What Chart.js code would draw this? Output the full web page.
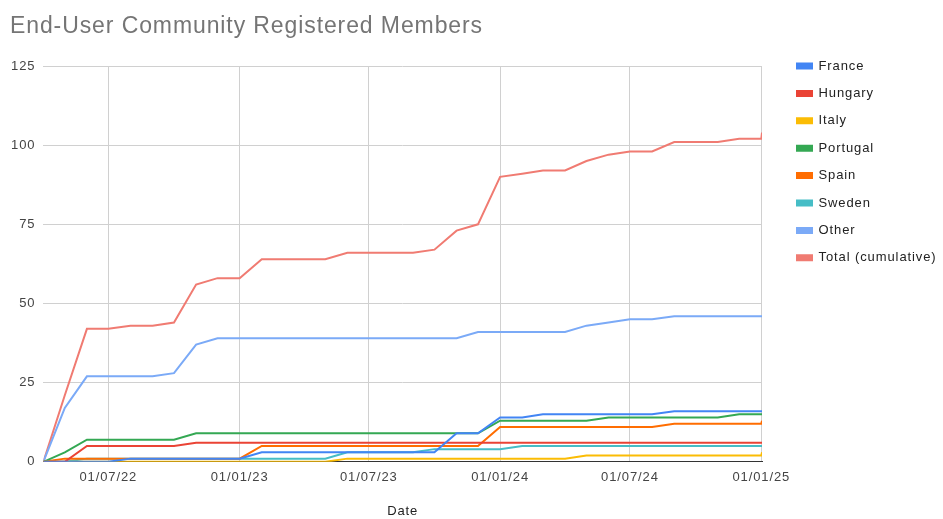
<!DOCTYPE html>
<html>
<head>
<meta charset="utf-8">
<script src="https://cdn.jsdelivr.net/npm/chart.js@4"></script>
<style>
  body { margin: 0; background: #fff; }
  #wrap { width: 943px; height: 519px; }
</style>
</head>
<body>
<div id="wrap"><canvas id="grafico"></canvas></div>
<script>
// datas (1º de cada mês) + um ponto extra no fim
const datas = ["2022-04-01","2022-05-01","2022-06-01","2022-07-01","2022-08-01","2022-09-01","2022-10-01","2022-11-01","2022-12-01",
  "2023-01-01","2023-02-01","2023-03-01","2023-04-01","2023-05-01","2023-06-01","2023-07-01","2023-08-01","2023-09-01","2023-10-01","2023-11-01","2023-12-01",
  "2024-01-01","2024-02-01","2024-03-01","2024-04-01","2024-05-01","2024-06-01","2024-07-01","2024-08-01","2024-09-01","2024-10-01","2024-11-01","2024-12-01",
  "2025-01-01","2025-01-02"];

const france   = [0,0,0,0,1,1,1,1,1, 1,3,3,3,3,3,3,3,3,3,9,9, 14,14,15,15,15,15,15,15,16,16,16,16, 16,16];
const hungary  = [0,0,5,5,5,5,5,6,6, 6,6,6,6,6,6,6,6,6,6,6,6, 6,6,6,6,6,6,6,6,6,6,6,6, 6,6];
const italy    = [0,0,0,0,0,0,0,0,0, 0,0,0,0,0,1,1,1,1,1,1,1, 1,1,1,1,2,2,2,2,2,2,2,2, 2,3];
const portugal = [0,3,7,7,7,7,7,9,9, 9,9,9,9,9,9,9,9,9,9,9,9, 13,13,13,13,13,14,14,14,14,14,14,15, 15,15];
const spain    = [0,1,1,1,1,1,1,1,1, 1,5,5,5,5,5,5,5,5,5,5,5, 11,11,11,11,11,11,11,11,12,12,12,12, 12,13];
const sweden   = [0,0,1,1,1,1,1,1,1, 1,1,1,1,1,3,3,3,3,4,4,4, 4,5,5,5,5,5,5,5,5,5,5,5, 5,5];
const other    = [0,17,27,27,27,27,28,37,39, 39,39,39,39,39,39,39,39,39,39,39,41, 41,41,41,41,43,44,45,45,46,46,46,46, 46,46];
const total    = [0,21,42,42,43,43,44,56,58, 58,64,64,64,64,66,66,66,66,67,73,75, 90,91,92,92,95,97,98,98,101,101,101,102, 102,104];

const datasTicks = ["2022-07-01","2023-01-01","2023-07-01","2024-01-01","2024-07-01","2025-01-01"];
const yTicks = [0,25,50,75,100,125];

const dia = s => Date.UTC(+s.slice(0,4), +s.slice(5,7)-1, +s.slice(8,10)) / 86400000;
const rotuloData = s => s.slice(8,10) + "/" + s.slice(5,7) + "/" + s.slice(2,4);

const series = [
  ["France", france, "#4285f4"],
  ["Hungary", hungary, "#ea4335"],
  ["Italy", italy, "#fbbc04"],
  ["Portugal", portugal, "#34a853"],
  ["Spain", spain, "#ff6d01"],
  ["Sweden", sweden, "#46bdc6"],
  ["Other", other, "#7baaf7"],
  ["Total (cumulative)", total, "#f07b72"]
];

const tickDias = datasTicks.map(dia);
const fonte = "Liberation Sans, Arial, sans-serif";
const espacoLetras = "0.9px";
const padLegenda = 14.4;

// legenda: largura fixa e posição ao lado da área do gráfico; título a 10px da borda
const ajustes = {
  id: "ajustes",
  beforeInit(chart) {
    const fit = chart.legend.fit;
    chart.legend.fit = function () { fit.call(this); this.width = 181; };
  },
  beforeLayout(chart) { chart.ctx.letterSpacing = espacoLetras; },
  afterLayout(chart) {
    chart.legend.left = chart.chartArea.right + 35 - padLegenda;
    chart.legend.top = chart.chartArea.top - padLegenda - 6.5;
    if (chart.titleBlock) chart.titleBlock.left = 10;
  },
  beforeDraw(chart) { chart.ctx.letterSpacing = espacoLetras; }
};

new Chart(document.getElementById("grafico"), {
  type: "line",
  data: {
    datasets: series.map(([nome, vals, cor]) => ({
      label: nome,
      data: vals.map((v, i) => ({ x: dia(datas[i]), y: v })),
      borderColor: cor,
      backgroundColor: cor,
      borderWidth: 2,
      pointRadius: 0,
      tension: 0
    }))
  },
  plugins: [ajustes],
  options: {
    responsive: true,
    maintainAspectRatio: false,
    animation: false,
    layout: { padding: { left: 3, right: 0, top: 0, bottom: 0 } },
    plugins: {
      title: {
        display: true,
        text: "End-User Community Registered Members",
        align: "start",
        color: "#757575",
        font: { family: fonte, size: 23, weight: "normal" },
        padding: { top: 13, bottom: 25.4 }
      },
      legend: {
        position: "right",
        align: "start",
        labels: {
          boxWidth: 15,
          boxHeight: 5,
          padding: padLegenda,
          color: "#222",
          font: { family: fonte, size: 13 }
        }
      },
      tooltip: { enabled: false }
    },
    scales: {
      x: {
        type: "linear",
        min: dia(datas[0]),
        max: dia(datas[datas.length - 1]),
        afterBuildTicks: ax => { ax.ticks = tickDias.map(v => ({ value: v })); },
        ticks: {
          callback: v => rotuloData(datasTicks[tickDias.indexOf(v)] || ""),
          color: "#444",
          font: { family: fonte, size: 13 },
          maxRotation: 0,
          padding: 8
        },
        grid: { color: "#d0d0d0", drawTicks: false },
        border: { color: "#333", width: 1 },
        title: {
          display: true,
          text: "Date",
          color: "#222",
          font: { family: fonte, size: 13 },
          padding: { top: 10, bottom: 0 }
        }
      },
      y: {
        min: 0,
        max: 125,
        afterBuildTicks: ax => { ax.ticks = yTicks.map(v => ({ value: v })); },
        ticks: {
          color: "#444",
          font: { family: fonte, size: 13 },
          padding: 8
        },
        grid: { color: "#d0d0d0", drawTicks: false },
        border: { display: false }
      }
    }
  }
});
</script>
</body>
</html>
